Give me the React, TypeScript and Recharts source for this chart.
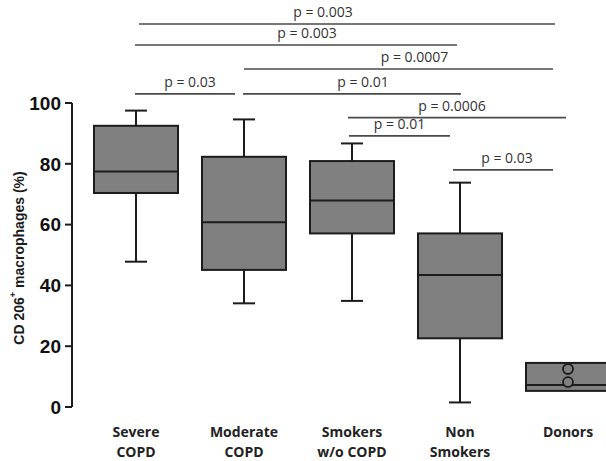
import React from 'react';
import { ComposedChart, Bar, XAxis, YAxis, ReferenceLine, Label } from 'recharts';

// Group names and their two-line axis captions
const categories = ['Severe COPD', 'Moderate COPD', 'Smokers w/o COPD', 'Non Smokers', 'Donors'];
const tickCaptions = [['Severe', 'COPD'], ['Moderate', 'COPD'], ['Smokers', 'w/o COPD'], ['Non', 'Smokers'], ['Donors']];

// Five-number summaries (% CD206+ macrophages)
const whiskerLow = [47.8, 34.1, 34.9, 1.5, 5.3];
const quartile1 = [70.4, 45.1, 57.1, 22.6, 5.3];
const medians = [77.5, 60.8, 67.9, 43.4, 7.2];
const quartile3 = [92.5, 82.3, 80.9, 57.1, 14.5];
const whiskerHigh = [97.5, 94.6, 86.7, 73.8, 14.5];
const outliers: number[][] = [[], [], [], [], [12.5, 8.2]];

const yTicks = [0, 20, 40, 60, 80, 100];

// Pairwise comparisons: group indices, bracket height (axis units), p-value text
const compFrom = [0, 0, 1, 0, 1, 2, 2, 3];
const compTo = [4, 3, 4, 1, 3, 4, 3, 4];
const compLevel = [126, 119.1, 111.2, 103, 103, 95.2, 89.2, 78];
const compText = ['p = 0.003', 'p = 0.003', 'p = 0.0007', 'p = 0.03', 'p = 0.01', 'p = 0.0006', 'p = 0.01', 'p = 0.03'];

// Drawing tweaks for the brackets: end trims (px) and caption nudge (px)
const compTrimLeft = [3, -1, 0, -1, -1, -4, -3, -7];
const compTrimRight = [-13, -3, -15, -9, 1, -2, -10, -15];
const compTextShift = [-24, 11, 16, 5, 11, -5, 0, 4];

const rows = categories.map((name, i) => ({
  name,
  low: whiskerLow[i],
  q1: quartile1[i],
  median: medians[i],
  q3: quartile3[i],
  high: whiskerHigh[i],
  outliers: outliers[i],
}));

const BOX_FILL = '#808080';
const INK = '#1c1c1c';

const BoxShape = (props: any) => {
  const { x, width, payload } = props;
  let { y, height } = props;
  if (height < 0) {
    y += height;
    height = -height;
  }
  const lo = payload.low;
  const hi = payload.high;
  const span = hi - lo || 1;
  // linear map value -> pixel using the bar's own extent
  const py = (v: number) => y + (height * (hi - v)) / span;
  const cx = x + width / 2;
  const cap = 11;
  return (
    <g>
      <line x1={cx} x2={cx} y1={py(hi)} y2={py(payload.q3)} stroke={INK} strokeWidth={2} />
      <line x1={cx} x2={cx} y1={py(payload.q1)} y2={py(lo)} stroke={INK} strokeWidth={2} />
      {hi > payload.q3 && <line x1={cx - cap} x2={cx + cap} y1={py(hi)} y2={py(hi)} stroke={INK} strokeWidth={2} />}
      {lo < payload.q1 && <line x1={cx - cap} x2={cx + cap} y1={py(lo)} y2={py(lo)} stroke={INK} strokeWidth={2} />}
      <rect
        x={x}
        y={py(payload.q3)}
        width={width}
        height={py(payload.q1) - py(payload.q3)}
        fill={BOX_FILL}
        stroke={INK}
        strokeWidth={2}
      />
      <line x1={x} x2={x + width} y1={py(payload.median)} y2={py(payload.median)} stroke={INK} strokeWidth={2} />
      {payload.outliers.map((v: number, k: number) => (
        <circle key={k} cx={cx} cy={py(v)} r={5} fill={BOX_FILL} stroke={INK} strokeWidth={1.8} />
      ))}
    </g>
  );
};

const CategoryTick = (props: any) => {
  const { x, y, payload } = props;
  const idx = categories.indexOf(payload.value);
  const lines = tickCaptions[idx] || [payload.value];
  return (
    <text
      x={x}
      y={y}
      textAnchor="middle"
      fill="#222"
      fontFamily="'Open Sans', sans-serif"
      fontWeight={700}
      fontSize={14}
    >
      {lines.map((t, k) => (
        <tspan key={k} x={x} dy={k === 0 ? 30 : 20}>
          {t}
        </tspan>
      ))}
    </text>
  );
};

const YTitle = () => (
  <text
    x={19}
    y={258}
    transform="rotate(-90 19 258)"
    textAnchor="middle"
    dominantBaseline="central"
    fill="#1a1a1a"
    fontFamily="'Liberation Sans', Arial, sans-serif"
    fontWeight={700}
    fontSize={14}
  >
    CD 206
    <tspan fontSize={9} dy={-6}>+</tspan>
    <tspan dy={6}> macrophages (%)</tspan>
  </text>
);

// Significance bracket: a horizontal rule with its p-value caption above
const bracketShape = (i: number) => (props: any) => {
  const a = Math.min(props.x1, props.x2) + compTrimLeft[i];
  const b = Math.max(props.x1, props.x2) + compTrimRight[i];
  const yy = props.y1;
  return (
    <g>
      <line x1={a} x2={b} y1={yy} y2={yy} stroke="#4a4a4a" strokeWidth={1.6} />
      <text
        x={(a + b) / 2 + compTextShift[i]}
        y={yy - 7}
        textAnchor="middle"
        fill="#333"
        fontFamily="'Open Sans', sans-serif"
        fontSize={14}
      >
        {compText[i]}
      </text>
    </g>
  );
};

export default function App() {
  return (
    <div style={{ position: 'absolute', left: 0, top: 0, width: 606, height: 461, overflow: 'hidden', background: '#fff' }}>
      <ComposedChart width={640} height={461} data={rows} margin={{ top: 103, right: 18, bottom: 0, left: 0 }}>
        <XAxis
          dataKey="name"
          axisLine={false}
          tickLine={false}
          tickSize={0}
          tickMargin={0}
          interval={0}
          height={54}
          padding={{ left: 10, right: 0 }}
          tick={<CategoryTick />}
        />
        <YAxis
          domain={[0, 100]}
          ticks={yTicks}
          width={72}
          axisLine={{ stroke: INK, strokeWidth: 2 }}
          tickLine={{ stroke: INK, strokeWidth: 2 }}
          tickSize={7}
          tickMargin={4}
          tick={{ fill: '#111', fontSize: 19, fontWeight: 700, fontFamily: "'Liberation Sans', Arial, sans-serif" }}
          label={<Label content={<YTitle />} />}
        />
        <Bar dataKey={(d: any) => [d.low, d.high]} barSize={84} shape={<BoxShape />} isAnimationActive={false} />
        {compText.map((_, i) => (
          <ReferenceLine
            key={i}
            segment={[
              { x: categories[compFrom[i]], y: compLevel[i] },
              { x: categories[compTo[i]], y: compLevel[i] },
            ]}
            ifOverflow="visible"
            shape={bracketShape(i)}
          />
        ))}
      </ComposedChart>
    </div>
  );
}
